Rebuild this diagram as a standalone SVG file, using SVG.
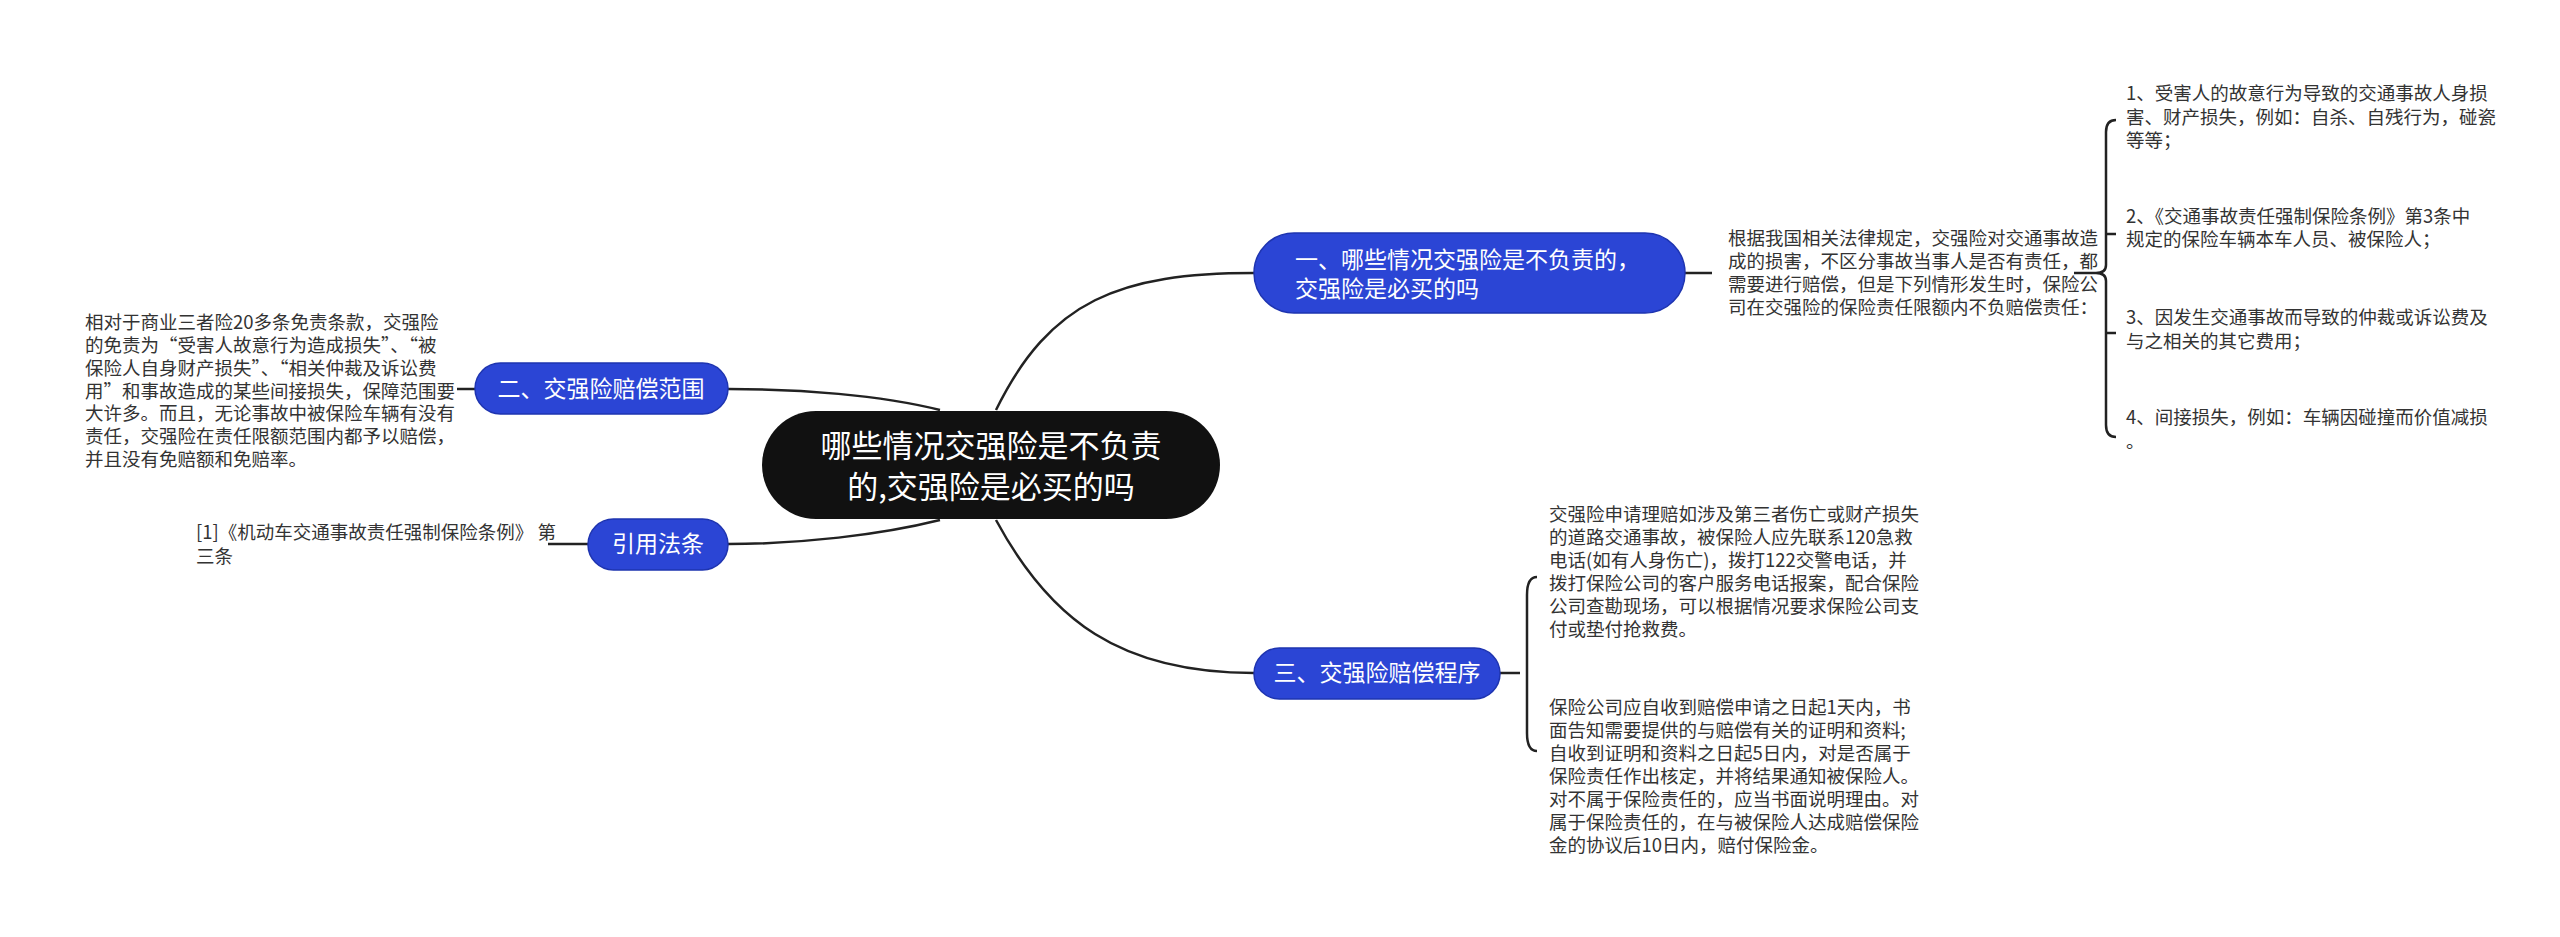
<svg xmlns="http://www.w3.org/2000/svg" width="2560" height="937" viewBox="0 0 2560 937">
<style>
.t{font-family:"Noto Sans CJK SC","Noto Sans",sans-serif;font-size:18.5px;fill:#333}
.n{fill:#2B45D5;stroke:#1E34B0;stroke-width:1.5}
.nt{font-family:"Noto Sans CJK SC","Noto Sans",sans-serif;font-size:23px;fill:#fff}
.c{fill:none;stroke:#222;stroke-width:2.5}
</style>
<rect width="2560" height="937" fill="#fff"/>
<g id="connectors">
<path class="c" d="M996,410 C1050,300 1120,273 1254,273"/>
<path class="c" d="M996,520 C1050,620 1120,673 1254,673"/>
<path class="c" d="M940,410 C880,395 800,389 728,389"/>
<path class="c" d="M940,520 C880,535 800,544 728,544"/>
<path class="c" d="M1685,273 H1712"/>
<path class="c" d="M2074,273 H2096"/>
<path class="c" d="M2116,120 Q2106,120 2106,132 V265 Q2106,273 2096,273 Q2106,273 2106,281 V425 Q2106,437 2116,437 M2106,234 Q2106,234 2116,234 M2106,333 Q2106,333 2116,333"/>
<path class="c" d="M457,389 H475"/>
<path class="c" d="M548,544 H588"/>
<path class="c" d="M1500,673 H1520"/>
<path class="c" d="M1537,577 Q1527,577 1527,595 V733 Q1527,751 1537,751"/>
</g>
<g id="center">
<rect x="762" y="411" width="458" height="108" rx="54" fill="#111"/>
<text x="991" y="457" text-anchor="middle" font-family="Noto Sans CJK SC,sans-serif" font-size="31" fill="#fff">哪些情况交强险是不负责</text>
<text x="991" y="498" text-anchor="middle" font-family="Noto Sans CJK SC,sans-serif" font-size="31" fill="#fff">的,交强险是必买的吗</text>
</g>
<g id="node1">
<rect class="n" x="1254" y="233" width="431" height="80" rx="40"/>
<text class="nt" x="1295" y="268">一、哪些情况交强险是不负责的，</text>
<text class="nt" x="1295" y="297">交强险是必买的吗</text>
</g>
<g id="node1text">
<text class="t" x="1728" y="245">根据我国相关法律规定，交强险对交通事故造</text>
<text class="t" x="1728" y="268">成的损害，不区分事故当事人是否有责任，都</text>
<text class="t" x="1728" y="291">需要进行赔偿，但是下列情形发生时，保险公</text>
<text class="t" x="1728" y="314">司在交强险的保险责任限额内不负赔偿责任：</text>
</g>
<g id="item1">
<text class="t" x="2126" y="100">1、受害人的故意行为导致的交通事故人身损</text>
<text class="t" x="2126" y="124">害、财产损失，例如：自杀、自残行为，碰瓷</text>
<text class="t" x="2126" y="147">等等；</text>
</g>
<g id="item2">
<text class="t" x="2126" y="223">2、《交通事故责任强制保险条例》第3条中</text>
<text class="t" x="2126" y="246">规定的保险车辆本车人员、被保险人；</text>
</g>
<g id="item3">
<text class="t" x="2126" y="324">3、因发生交通事故而导致的仲裁或诉讼费及</text>
<text class="t" x="2126" y="348">与之相关的其它费用；</text>
</g>
<g id="item4">
<text class="t" x="2126" y="424">4、间接损失，例如：车辆因碰撞而价值减损</text>
<text class="t" x="2126" y="448">。</text>
</g>
<g id="node2">
<rect class="n" x="475" y="363" width="253" height="51" rx="25.5"/>
<text class="nt" x="601" y="397" text-anchor="middle">二、交强险赔偿范围</text>
</g>
<g id="node2text">
<text class="t" x="85" y="329">相对于商业三者险20多条免责条款，交强险</text>
<text class="t" x="85" y="352">的免责为“受害人故意行为造成损失”、“被</text>
<text class="t" x="85" y="375">保险人自身财产损失”、“相关仲裁及诉讼费</text>
<text class="t" x="85" y="398">用”和事故造成的某些间接损失，保障范围要</text>
<text class="t" x="85" y="420">大许多。而且，无论事故中被保险车辆有没有</text>
<text class="t" x="85" y="443">责任，交强险在责任限额范围内都予以赔偿，</text>
<text class="t" x="85" y="466">并且没有免赔额和免赔率。</text>
</g>
<g id="node4">
<rect class="n" x="588" y="519" width="140" height="51" rx="25.5"/>
<text class="nt" x="658" y="552" text-anchor="middle">引用法条</text>
</g>
<g id="node4text">
<text class="t" x="196" y="539">[1]《机动车交通事故责任强制保险条例》 第</text>
<text class="t" x="196" y="563">三条</text>
</g>
<g id="node3">
<rect class="n" x="1254" y="648" width="246" height="51" rx="25.5"/>
<text class="nt" x="1377" y="681" text-anchor="middle">三、交强险赔偿程序</text>
</g>
<g id="node3text1">
<text class="t" x="1549" y="521">交强险申请理赔如涉及第三者伤亡或财产损失</text>
<text class="t" x="1549" y="544">的道路交通事故，被保险人应先联系120急救</text>
<text class="t" x="1549" y="567">电话(如有人身伤亡)，拨打122交警电话，并</text>
<text class="t" x="1549" y="590">拨打保险公司的客户服务电话报案，配合保险</text>
<text class="t" x="1549" y="613">公司查勘现场，可以根据情况要求保险公司支</text>
<text class="t" x="1549" y="636">付或垫付抢救费。</text>
</g>
<g id="node3text2">
<text class="t" x="1549" y="714">保险公司应自收到赔偿申请之日起1天内，书</text>
<text class="t" x="1549" y="737">面告知需要提供的与赔偿有关的证明和资料;</text>
<text class="t" x="1549" y="760">自收到证明和资料之日起5日内，对是否属于</text>
<text class="t" x="1549" y="783">保险责任作出核定，并将结果通知被保险人。</text>
<text class="t" x="1549" y="806">对不属于保险责任的，应当书面说明理由。对</text>
<text class="t" x="1549" y="829">属于保险责任的，在与被保险人达成赔偿保险</text>
<text class="t" x="1549" y="852">金的协议后10日内，赔付保险金。</text>
</g>
</svg>
